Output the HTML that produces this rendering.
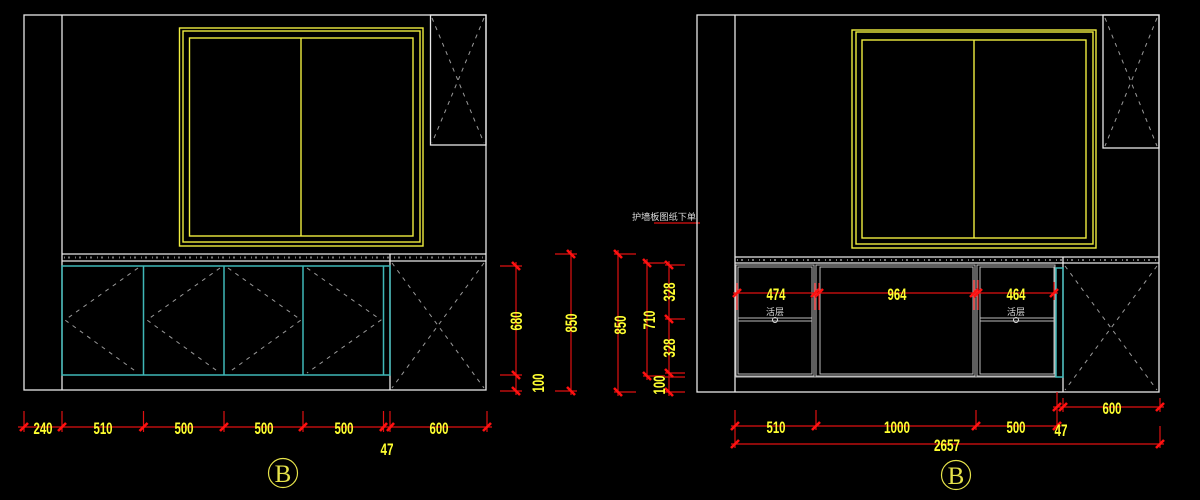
<!DOCTYPE html>
<html><head><meta charset="utf-8"><style>
html,body{margin:0;padding:0;background:#000;}
svg{display:block}
.w{stroke:#e8e8e8;stroke-width:1.3;fill:none}
.g{stroke:#bdbdbd;stroke-width:1;fill:none}
.y{stroke:#f0ee40;stroke-width:1.4;fill:none}
.c{stroke:#3fb7b7;stroke-width:1.5;fill:none}
.d{stroke:#9a9a9a;stroke-width:1;fill:none;stroke-dasharray:4 5}
.r{stroke:#e01010;stroke-width:1.2;fill:none}
.t{stroke:#ff1010;stroke-width:2.6;fill:none}
.n{fill:#ffff30;font-family:"Liberation Sans Narrow","Liberation Sans",sans-serif;font-weight:bold;font-size:17px}
.sp{stroke:#777;stroke-width:2;stroke-dasharray:1 3 2 5;fill:none}
</style></head><body>
<svg width="1200" height="500" viewBox="0 0 1200 500" xmlns="http://www.w3.org/2000/svg">
<rect width="1200" height="500" fill="#000"/>

<!-- LEFT DRAWING -->
<rect class="w" x="24" y="15" width="462" height="375"/>
<line class="w" x1="62" y1="15" x2="62" y2="390"/>
<rect class="y" x="179.5" y="28" width="243.5" height="218"/>
<rect class="y" x="183" y="31" width="237" height="211"/>
<rect class="y" x="189.5" y="38" width="223.5" height="198"/>
<line class="y" x1="301" y1="38" x2="301" y2="236"/>
<rect class="w" x="430.5" y="15" width="55.5" height="130"/>
<path class="d" d="M432 18 L484 143 M484 18 L432 143"/>
<line class="w" x1="62" y1="254" x2="486" y2="254"/>
<line class="w" x1="62" y1="261" x2="486" y2="261"/>
<line class="sp" x1="64" y1="257.5" x2="484" y2="257.5"/>
<line class="w" x1="390" y1="254" x2="390" y2="390"/>
<rect class="c" x="62" y="266" width="328" height="109"/>
<path class="c" d="M143.5 266V375 M224 266V375 M303 266V375 M383.5 266V375"/>
<path class="d" d="M138 268 L65 320 L138 373 M220 268 L147 320 L220 373 M228 268 L301 320 L228 373 M307 268 L381 320 L307 373"/>
<path class="d" d="M392 263 L484 388 M484 263 L392 388"/>

<!-- left bottom dims -->
<line class="r" x1="18" y1="427" x2="492" y2="427"/>
<path class="r" d="M24 411V432 M62 411V432 M143.5 411V432 M224 411V432 M303 411V432 M383.5 411V432 M390 411V432 M487 411V432"/>
<path class="t" d="M20 431L28 423 M58 431L66 423 M139.5 431L147.5 423 M220 431L228 423 M299 431L307 423 M380 431L387 423 M387 431L394 423 M483 431L491 423"/>
<text class="n" x="43" y="434" text-anchor="middle" textLength="19" lengthAdjust="spacingAndGlyphs">240</text>
<text class="n" x="103" y="434" text-anchor="middle" textLength="19" lengthAdjust="spacingAndGlyphs">510</text>
<text class="n" x="184" y="434" text-anchor="middle" textLength="19" lengthAdjust="spacingAndGlyphs">500</text>
<text class="n" x="264" y="434" text-anchor="middle" textLength="19" lengthAdjust="spacingAndGlyphs">500</text>
<text class="n" x="344" y="434" text-anchor="middle" textLength="19" lengthAdjust="spacingAndGlyphs">500</text>
<text class="n" x="439" y="434" text-anchor="middle" textLength="19" lengthAdjust="spacingAndGlyphs">600</text>
<text class="n" x="387" y="455" text-anchor="middle" textLength="13" lengthAdjust="spacingAndGlyphs">47</text>
<ellipse cx="283" cy="473" rx="14.5" ry="14.5" fill="none" stroke="#e6e34a" stroke-width="1.2"/>
<text x="283" y="482" text-anchor="middle" fill="#e6e34a" font-family="Liberation Serif,serif" font-size="25">B</text>

<!-- left vertical dims -->
<line class="r" x1="516" y1="262" x2="516" y2="395"/>
<path class="r" d="M500 266H522 M500 375H522 M500 391H522"/>
<path class="t" d="M512 262L520 270 M512 371L520 379 M512 387L520 395"/>
<text class="n" transform="translate(516,321) rotate(-90)" text-anchor="middle" dy="6" textLength="19" lengthAdjust="spacingAndGlyphs">680</text>
<text class="n" transform="translate(538,383) rotate(-90)" text-anchor="middle" dy="6" textLength="19" lengthAdjust="spacingAndGlyphs">100</text>
<line class="r" x1="571" y1="250" x2="571" y2="395"/>
<path class="r" d="M555 254H577 M555 391H577"/>
<path class="t" d="M567 250L575 258 M567 387L575 395"/>
<text class="n" transform="translate(571,323) rotate(-90)" text-anchor="middle" dy="6" textLength="19" lengthAdjust="spacingAndGlyphs">850</text>

<!-- RIGHT vertical dims -->
<line class="r" x1="618" y1="250" x2="618" y2="396"/>
<path class="r" d="M614 254H636 M614 392H636"/>
<path class="t" d="M614 250L622 258 M614 388L622 396"/>
<text class="n" transform="translate(620,325) rotate(-90)" text-anchor="middle" dy="6" textLength="19" lengthAdjust="spacingAndGlyphs">850</text>
<line class="r" x1="647" y1="259" x2="647" y2="380"/>
<path class="r" d="M643 263H665 M643 376H665"/>
<path class="t" d="M643 259L651 267 M643 372L651 380"/>
<text class="n" transform="translate(649,320) rotate(-90)" text-anchor="middle" dy="6" textLength="19" lengthAdjust="spacingAndGlyphs">710</text>
<line class="r" x1="669" y1="261" x2="669" y2="396"/>
<path class="r" d="M665 265H685 M665 319H685 M665 373H685 M665 377H685 M665 392H685"/>
<path class="t" d="M665 261L673 269 M665 315L673 323 M665 369L673 377 M665 388L673 396"/>
<text class="n" transform="translate(669,292) rotate(-90)" text-anchor="middle" dy="6" textLength="19" lengthAdjust="spacingAndGlyphs">328</text>
<text class="n" transform="translate(669,348) rotate(-90)" text-anchor="middle" dy="6" textLength="19" lengthAdjust="spacingAndGlyphs">328</text>
<text class="n" transform="translate(659,385) rotate(-90)" text-anchor="middle" dy="6" textLength="19" lengthAdjust="spacingAndGlyphs">100</text>

<!-- leader label -->
<text x="632" y="220" fill="#dcdcdc" font-family="Liberation Sans,'Noto Sans CJK SC',sans-serif" font-size="9" textLength="64" lengthAdjust="spacingAndGlyphs">护墙板图纸下单</text>
<line class="r" x1="654" y1="223" x2="700" y2="223"/>

<!-- RIGHT DRAWING -->
<rect class="w" x="697" y="15" width="462" height="377"/>
<line class="w" x1="735" y1="15" x2="735" y2="392"/>
<rect class="y" x="852" y="30" width="244" height="218"/>
<rect class="y" x="856" y="32" width="237" height="212"/>
<rect class="y" x="862" y="40" width="224" height="198"/>
<line class="y" x1="974" y1="40" x2="974" y2="238"/>
<rect class="w" x="1103" y="15" width="56" height="133"/>
<path class="d" d="M1105 18 L1157 146 M1157 18 L1105 146"/>
<line class="w" x1="735" y1="257" x2="1159" y2="257"/>
<line class="w" x1="735" y1="263" x2="1159" y2="263"/>
<line class="sp" x1="737" y1="260" x2="1157" y2="260"/>
<line class="w" x1="1063" y1="257" x2="1063" y2="392"/>
<path class="d" d="M1065 266 L1157 390 M1157 266 L1065 390"/>
<line class="g" x1="735" y1="377" x2="1063" y2="377"/>
<rect class="g" x="736" y="265" width="78" height="111"/>
<rect class="g" x="738" y="267" width="74" height="107"/>
<rect class="g" x="816" y="265" width="159" height="111"/>
<rect class="g" x="820" y="267" width="153" height="107"/>
<rect class="g" x="977" y="265" width="78" height="111"/>
<rect class="g" x="980" y="267" width="74" height="107"/>
<path class="g" d="M738 318H812 M738 321H812 M980 318H1054 M980 321H1054"/>
<rect class="c" x="1056" y="268" width="7" height="109"/>
<text x="775" y="315" fill="#dcdcdc" text-anchor="middle" font-family="Liberation Sans,'Noto Sans CJK SC',sans-serif" font-size="9">活层</text>
<text x="1016" y="315" fill="#dcdcdc" text-anchor="middle" font-family="Liberation Sans,'Noto Sans CJK SC',sans-serif" font-size="9">活层</text>
<circle cx="775" cy="320" r="2.5" fill="none" stroke="#ddd"/>
<circle cx="1016" cy="320" r="2.5" fill="none" stroke="#ddd"/>

<!-- inner dims -->
<line class="r" x1="733" y1="293" x2="1058" y2="293"/>
<path class="r" d="M737 283V310 M815 283V310 M819 283V310 M974 280V310 M978 280V310 M1054 282V300"/>
<path class="t" d="M733 297L741 289 M811 297L819 289 M815 297L823 289 M970 297L978 289 M974 297L982 289 M1050 297L1058 289"/>
<text class="n" x="776" y="300" text-anchor="middle" textLength="19" lengthAdjust="spacingAndGlyphs">474</text>
<text class="n" x="897" y="300" text-anchor="middle" textLength="19" lengthAdjust="spacingAndGlyphs">964</text>
<text class="n" x="1016" y="300" text-anchor="middle" textLength="19" lengthAdjust="spacingAndGlyphs">464</text>

<!-- bottom dims right -->
<line class="r" x1="731" y1="426" x2="1061" y2="426"/>
<path class="r" d="M735 410V448 M816 410V430 M976 410V430 M1057 392V430 M1063 398V412 M1160 398V412 M1160 426V448"/>
<path class="t" d="M731 430L739 422 M812 430L820 422 M972 430L980 422 M1053 430L1061 422"/>
<text class="n" x="776" y="433" text-anchor="middle" textLength="19" lengthAdjust="spacingAndGlyphs">510</text>
<text class="n" x="897" y="433" text-anchor="middle" textLength="26" lengthAdjust="spacingAndGlyphs">1000</text>
<text class="n" x="1016" y="433" text-anchor="middle" textLength="19" lengthAdjust="spacingAndGlyphs">500</text>
<text class="n" x="1061" y="436" text-anchor="middle" textLength="13" lengthAdjust="spacingAndGlyphs">47</text>
<line class="r" x1="1053" y1="407" x2="1164" y2="407"/>
<path class="t" d="M1053 411L1061 403 M1059 411L1067 403 M1156 411L1164 403"/>
<text class="n" x="1112" y="414" text-anchor="middle" textLength="19" lengthAdjust="spacingAndGlyphs">600</text>
<line class="r" x1="731" y1="444" x2="1164" y2="444"/>
<path class="t" d="M731 448L739 440 M1156 448L1164 440"/>
<text class="n" x="947" y="451" text-anchor="middle" textLength="26" lengthAdjust="spacingAndGlyphs">2657</text>
<ellipse cx="956" cy="475" rx="14.5" ry="14.5" fill="none" stroke="#e6e34a" stroke-width="1.2"/>
<text x="956" y="484" text-anchor="middle" fill="#e6e34a" font-family="Liberation Serif,serif" font-size="25">B</text>
</svg>
</body></html>
